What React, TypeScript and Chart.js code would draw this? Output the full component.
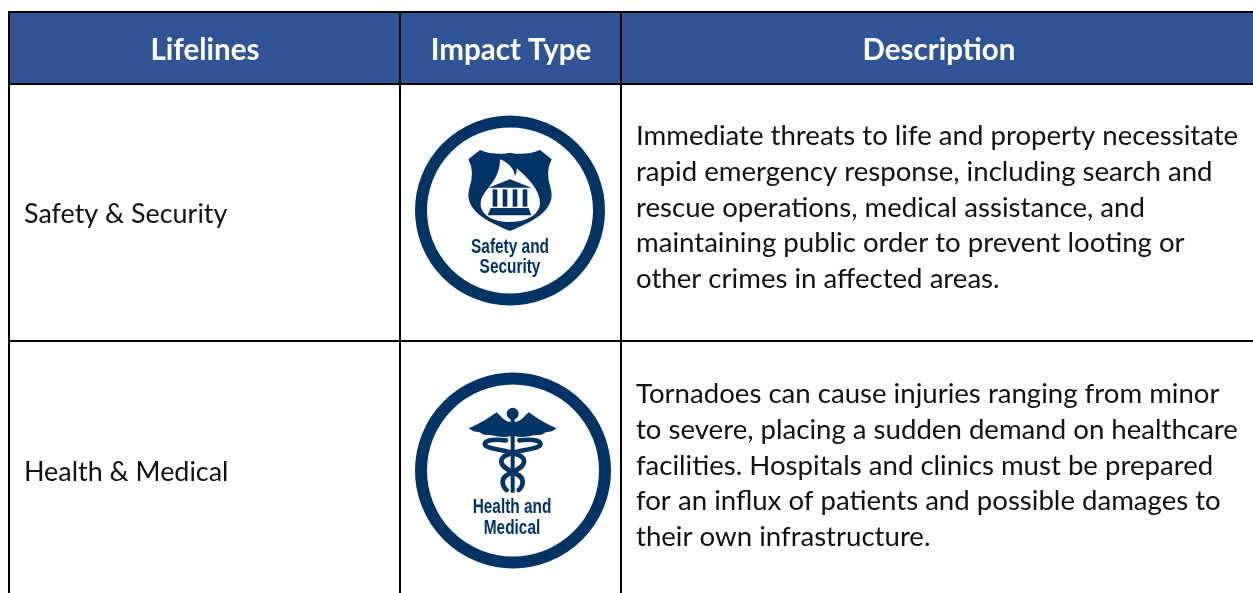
import React, { useEffect, useRef } from "react";
import { Chart, registerables } from "chart.js";

Chart.register(...registerables);

const headers = ["Lifelines", "Impact Type", "Description"];
const lifelines = ["Safety & Security", "Health & Medical"];
const iconLabels = [["Safety and", "Security"], ["Health and", "Medical"]];
const descriptions = [
  [
    "Immediate threats to life and property necessitate",
    "rapid emergency response, including search and",
    "rescue operations, medical assistance, and",
    "maintaining public order to prevent looting or",
    "other crimes in affected areas.",
  ],
  [
    "Tornadoes can cause injuries ranging from minor",
    "to severe, placing a sudden demand on healthcare",
    "facilities. Hospitals and clinics must be prepared",
    "for an influx of patients and possible damages to",
    "their own infrastructure.",
  ],
];

const NAVY = "#003366";
const HEADER = "#2F5597";
const FONT = "Lato, 'Open Sans', sans-serif";

function drawShield(c: CanvasRenderingContext2D) {
  c.fillStyle = NAVY;
  c.beginPath();
  c.moveTo(240, 150);
  c.quadraticCurveTo(285, 168, 330, 158);
  c.quadraticCurveTo(375, 168, 420, 150);
  c.lineTo(455, 178);
  c.quadraticCurveTo(435, 215, 452, 265);
  c.bezierCurveTo(470, 330, 400, 365, 330, 393);
  c.bezierCurveTo(260, 365, 190, 330, 208, 265);
  c.quadraticCurveTo(225, 215, 205, 178);
  c.closePath();
  c.fill();
  c.fillStyle = "#fff";
  c.beginPath();
  c.moveTo(300, 178);
  c.bezierCurveTo(325, 188, 342, 205, 345, 228);
  c.quadraticCurveTo(352, 218, 350, 205);
  c.bezierCurveTo(385, 235, 420, 270, 420, 310);
  c.bezierCurveTo(418, 345, 380, 366, 330, 366);
  c.bezierCurveTo(280, 366, 242, 345, 242, 312);
  c.bezierCurveTo(242, 270, 300, 250, 300, 178);
  c.closePath();
  c.fill();
  c.fillStyle = NAVY;
  c.beginPath();
  c.moveTo(265, 263);
  c.lineTo(330, 238);
  c.lineTo(394, 263);
  c.closePath();
  c.fill();
  for (const x of [278, 308, 338, 368]) c.fillRect(x, 268, 14, 52);
  c.beginPath();
  c.moveTo(272, 324);
  c.lineTo(386, 324);
  c.lineTo(394, 346);
  c.lineTo(263, 346);
  c.closePath();
  c.fill();
}

function drawCaduceus(c: CanvasRenderingContext2D) {
  c.fillStyle = NAVY;
  c.strokeStyle = NAVY;
  c.beginPath();
  c.arc(338, 161, 18, 0, Math.PI * 2);
  c.fill();
  for (const s of [-1, 1]) {
    c.save();
    c.translate(338, 0);
    c.scale(s, 1);
    c.beginPath();
    c.moveTo(4, 186);
    c.bezierCurveTo(24, 186, 34, 170, 48, 157);
    c.bezierCurveTo(70, 172, 105, 195, 132, 205);
    c.lineTo(118, 214);
    c.lineTo(100, 217);
    c.lineTo(86, 224);
    c.lineTo(62, 226);
    c.bezierCurveTo(40, 232, 20, 232, 4, 228);
    c.closePath();
    c.fill();
    c.restore();
  }
  c.fillRect(332, 176, 12, 222);
  c.lineWidth = 14;
  c.lineCap = "round";
  c.beginPath();
  c.moveTo(318, 241);
  c.bezierCurveTo(270, 235, 245, 245, 258, 258);
  c.bezierCurveTo(275, 272, 375, 272, 372, 305);
  c.bezierCurveTo(370, 335, 308, 335, 308, 365);
  c.quadraticCurveTo(308, 380, 320, 390);
  c.moveTo(358, 241);
  c.bezierCurveTo(406, 235, 431, 245, 418, 258);
  c.bezierCurveTo(401, 272, 301, 272, 304, 305);
  c.bezierCurveTo(306, 335, 368, 335, 368, 365);
  c.quadraticCurveTo(368, 380, 356, 390);
  c.stroke();
}

const tablePlugin = {
  id: "lifelinesTable",
  afterDraw(chart: any) {
    const c: CanvasRenderingContext2D = chart.ctx;
    const X = (v: number) => chart.scales.x.getPixelForValue(v);
    const Y = (v: number) => chart.scales.y.getPixelForValue(v);
    c.save();
    c.fillStyle = "#fff";
    c.fillRect(0, 0, chart.width, chart.height);
    c.fillStyle = HEADER;
    c.fillRect(X(9), Y(12), X(1253) - X(9), Y(84) - Y(12));

    c.fillStyle = "#000";
    c.fillRect(X(8), Y(11), 2, Y(593) - Y(11));
    c.fillRect(X(399), Y(11), 2, Y(593) - Y(11));
    c.fillRect(X(620), Y(11), 2, Y(593) - Y(11));
    c.fillRect(X(8), Y(11), X(1253) - X(8), 2);
    c.fillRect(X(8), Y(83), X(1253) - X(8), 2);
    c.fillRect(X(8), Y(340), X(1253) - X(8), 2);

    c.textBaseline = "middle";
    c.textAlign = "center";
    c.fillStyle = "#fff";
    c.font = `bold 29.5px ${FONT}`;
    [205, 511, 939].forEach((x, i) => c.fillText(headers[i], X(x), Y(50)));

    c.textAlign = "left";
    c.fillStyle = "#111";
    c.font = `26.9px ${FONT}`;
    [214, 472].forEach((y, i) => c.fillText(lifelines[i], X(24), Y(y)));
    c.font = `27.6px ${FONT}`;
    [136, 394].forEach((y0, r) =>
      descriptions[r].forEach((line, i) => c.fillText(line, X(636), Y(y0 + i * 35.8)))
    );

    [
      { cx: 510, cy: 210.5, r: 89, ox: 400, oy: 100, glyph: drawShield, ty: [247, 267], tx: 510 },
      { cx: 513, cy: 470.5, r: 92, ox: 400, oy: 360, glyph: drawCaduceus, ty: [507, 528], tx: 512 },
    ].forEach((icon, i) => {
      c.strokeStyle = NAVY;
      c.lineWidth = 12;
      c.beginPath();
      c.arc(X(icon.cx), Y(icon.cy), icon.r, 0, Math.PI * 2);
      c.stroke();
      c.save();
      c.translate(X(icon.ox), Y(icon.oy));
      c.scale(1 / 3, 1 / 3);
      icon.glyph(c);
      c.restore();
      c.fillStyle = NAVY;
      c.textAlign = "center";
      c.font = "bold 20px 'Liberation Sans', sans-serif";
      iconLabels[i].forEach((t, j) => {
        c.save();
        c.translate(X(icon.tx), Y(icon.ty[j]));
        c.scale(0.77, 1);
        c.fillText(t, 0, 0);
        c.restore();
      });
    });
    c.restore();
  },
};

export default function App() {
  const ref = useRef<HTMLCanvasElement>(null);
  useEffect(() => {
    document.body.style.margin = "0";
    const chart = new Chart(ref.current!, {
      type: "scatter",
      data: { datasets: [] },
      plugins: [tablePlugin],
      options: {
        animation: false,
        responsive: false,
        layout: { padding: 0 },
        plugins: { legend: { display: false }, tooltip: { enabled: false } },
        scales: {
          x: { type: "linear", min: 0, max: 1253, display: false },
          y: { type: "linear", min: 0, max: 593, reverse: true, display: false },
        },
      },
    } as any);
    return () => chart.destroy();
  }, []);
  return <canvas ref={ref} width={1253} height={593} style={{ display: "block" }} />;
}
